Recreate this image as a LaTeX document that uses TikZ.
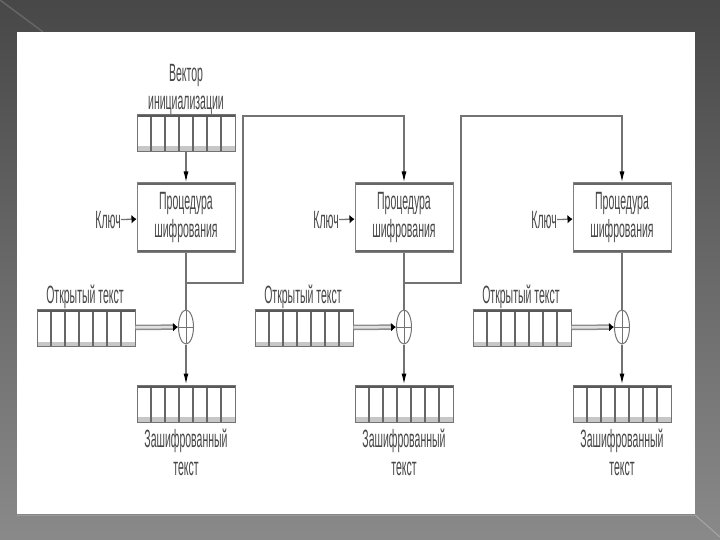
\documentclass[tikz,border=0pt]{standalone}
\usepackage{fontspec}
\newfontfamily\narrowfont[FakeStretch=0.42]{Liberation Sans}
\usetikzlibrary{calc,shapes.geometric,arrows.meta}

\begin{document}
\begin{tikzpicture}[x=1pt, y=-1pt,
    lbl/.style={font=\narrowfont\fontsize{25}{28}\selectfont, text=black!72, align=center, inner sep=0pt},
    wire/.style={draw=black!55, line width=1.3pt},
    vtip/.style={-{Latex[length=11pt,width=5pt,black]}},
    htip/.style={-{Latex[length=5pt,width=9pt,black]}},
    dataflow/.style={draw=black!45, line width=1.5pt, double=black!12, double distance=2.5pt},
    procbox/.style={lbl, draw=black!50, line width=1pt, fill=white,
        minimum width=98pt, minimum height=69pt,
        path picture={
            \draw[black!60, line width=5pt] (path picture bounding box.north west) -- (path picture bounding box.north east);
            \draw[black!60, line width=5pt] (path picture bounding box.south west) -- (path picture bounding box.south east);
        }},
    reg/.style={draw=black!55, line width=1pt, fill=white, inner sep=0pt,
        minimum width=98pt, minimum height=37pt,
        path picture={
            \fill[black!22] ([yshift=5pt]path picture bounding box.south west) rectangle (path picture bounding box.south east);
            \foreach \k in {1,...,6}
                \draw[black!60, line width=1.2pt]
                    ($(path picture bounding box.north west)!\k/7!(path picture bounding box.north east)$) --
                    ($(path picture bounding box.south west)!\k/7!(path picture bounding box.south east)$);
            \draw[black!65, line width=5pt] (path picture bounding box.north west) -- (path picture bounding box.north east);
        }},
    xorop/.style={ellipse, draw=black!55, line width=1pt, fill=white, inner sep=0pt,
        minimum width=15pt, minimum height=34pt,
        path picture={
            \draw[black!55, line width=1pt] (path picture bounding box.west) -- (path picture bounding box.east);
            \draw[black!55, line width=1pt] (path picture bounding box.north) -- (path picture bounding box.south);
        }}]

    \useasboundingbox (0,0) rectangle (720,540);

    % --- Slide background ---
    \fill[top color=black!72, bottom color=black!46] (0,0) rectangle (720,540);
    \draw[black!60, line width=1.5pt] (0,0) -- (43,32);
    \draw[black!35, line width=1pt] (695,515) -- (720,537);
    \fill[white] (17,32) rectangle (695,514);
    \draw[black!40, line width=1pt] (17,515) -- (695,515);

    % --- Initialisation vector ---
    \node[reg] (iv) at (186,133) {};
    \node[lbl] (ivl) at (186,89) {Вектор\\инициализации};

    % --- Three encryption stages ---
    \foreach \i in {0,1,2}{
        \pgfmathsetmacro{\cx}{186+218*\i}
        % encryption procedure and key
        \node[procbox] (proc\i) at (\cx,217.5) {Процедура\\шифрования};
        \node[lbl, anchor=east] (key\i) at (\cx-65,220) {Ключ};
        % plaintext block
        \node[reg] (pt\i) at (\cx-100,328) {};
        \node[lbl] (ptl\i) at (\cx-101,297) {Открытый текст};
        % xor
        \node[xorop] (x\i) at (\cx,327) {};
        % ciphertext block
        \node[reg] (ct\i) at (\cx,403.5) {};
        \node[lbl] (ctl\i) at (\cx,452) {Зашифрованный\\текст};
        % branch points of the feedback
        \coordinate (b\i) at (\cx,283);
        \coordinate (c\i) at (\cx+57,116);
    }

    % --- Connections ---
    \draw[wire, vtip] (iv) -- (proc0);
    \foreach \i in {0,1,2}{
        \draw[wire, htip] (key\i) -- (proc\i);
        \draw[wire] (proc\i) -- (x\i);
        \draw[wire, vtip] (x\i) -- (ct\i);
        \draw[dataflow, htip] (pt\i) -- (x\i);
    }
    \foreach \i/\j in {0/1,1/2}
        \draw[wire, vtip] (b\i) -| (c\i) -| (proc\j);

\end{tikzpicture}
\end{document}
